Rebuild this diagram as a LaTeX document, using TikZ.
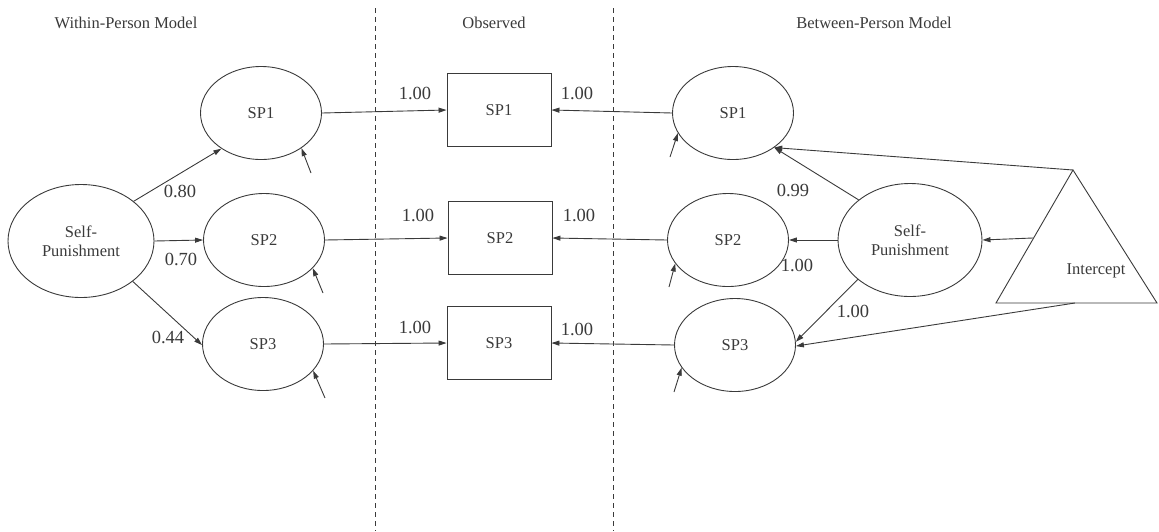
\documentclass[tikz,border=0pt]{standalone}
\usepackage{fontspec}
\setmainfont{Liberation Serif}
\usetikzlibrary{arrows.meta,calc,shapes.geometric}
\definecolor{ink}{HTML}{3A3A3A}
\tikzset{
  latent/.style={ellipse,draw=ink,line width=0.9pt,minimum width=121pt,minimum height=93pt,inner sep=0pt,text=ink,font=\fontsize{16.5}{19}\selectfont,align=center},
  bigl/.style={latent,minimum width=146pt,minimum height=113pt},
  obsbox/.style={rectangle,draw=ink,line width=0.9pt,minimum width=104pt,minimum height=73pt,text=ink,font=\fontsize{16.5}{19}\selectfont},
  path/.style={draw=ink,line width=0.9pt,-{Triangle[length=8pt,width=5pt]}},
  coef/.style={text=ink,font=\fontsize{18.5}{21}\selectfont,inner sep=0pt},
  head/.style={text=ink,font=\fontsize{16.5}{19}\selectfont,inner sep=0pt},
  divider/.style={draw=ink,line width=0.8pt,dash pattern=on 5pt off 4pt}
}
\begin{document}
\begin{tikzpicture}[x=1pt,y=-1pt]
\useasboundingbox (0,0) rectangle (1159,531);

% panel headings and dividers
\node[head] (hw) at (126,23) {Within-Person Model};
\node[head] (ho) at (494,23) {Observed};
\node[head] (hb) at (874,23) {Between-Person Model};
\coordinate (d1t) at (375,8);  \coordinate (d1b) at (375,531);
\coordinate (d2t) at (613,8);  \coordinate (d2b) at (613,531);
\draw[divider] (d1t) -- (d1b);
\draw[divider] (d2t) -- (d2b);

% within-person latent variables
\node[bigl] (lsp) at (81,241) {Self-\\Punishment};
\node[latent] (l1) at (261,113) {SP1};
\node[latent] (l2) at (264,240) {SP2};
\node[latent] (l3) at (263,344) {SP3};

% observed indicators
\node[obsbox] (o1) at (499,110) {SP1};
\node[obsbox] (o2) at (500,238) {SP2};
\node[obsbox] (o3) at (499,343) {SP3};

% between-person latent variables
\node[latent] (r1) at (733,113) {SP1};
\node[latent] (r2) at (728,240) {SP2};
\node[latent] (r3) at (735,345) {SP3};
\node[bigl,minimum width=144pt] (rsp) at (910,240) {Self-\\Punishment};

% intercept triangle
\coordinate (ta) at (1073,170);
\coordinate (tl) at (996,303);
\coordinate (tr) at (1157,303);
\draw[ink,line width=0.9pt] (ta) -- (tl) -- (tr) -- cycle;
\node[head] (icpt) at (1096,271) {Intercept};
\coordinate (tside) at ($(ta)!0.511!(tl)$);
\coordinate (tbase) at ($(tl)!0.49!(tr)$);

% within-person loadings
\draw[path] (lsp.37) -- (l1.222);
\draw[path] (lsp.east) -- (l2.west);
\draw[path] (lsp.-38) -- (l3.181);
\node[coef] (c80) at (180,191) {0.80};
\node[coef] (c70) at (181,259) {0.70};
\node[coef] (c44) at (168,337) {0.44};

% residuals, within
\coordinate (e1) at (311,173);
\coordinate (e2) at (323,293);
\coordinate (e3) at (325,398);
\draw[path] (e1) -- (l1.-41);
\draw[path] (e2) -- (l2.-30);
\draw[path] (e3) -- (l3.-28);

% paths to observed indicators
\draw[path] (l1.east) -- (o1.west);
\draw[path] (l2.east) -- (o2.west);
\draw[path] (l3.east) -- (o3.west);
\draw[path] (r1.west) -- (o1.east);
\draw[path] (r2.west) -- (o2.east);
\draw[path] (r3.west) -- (o3.east);
\node[coef] (a1) at (415,93) {1.00};
\node[coef] (a2) at (418,215) {1.00};
\node[coef] (a3) at (415,327) {1.00};
\node[coef] (b1) at (577,93) {1.00};
\node[coef] (b2) at (579,215) {1.00};
\node[coef] (b3) at (577,329) {1.00};

% residuals, between
\coordinate (f1) at (670,157);
\coordinate (f2) at (669,287);
\coordinate (f3) at (674,392);
\draw[path] (f1) -- (r1.200);
\draw[path] (f2) -- (r2.204);
\draw[path] (f3) -- (r3.203);

% between-person loadings
\draw[path] (rsp.142) -- (r1.-40);
\draw[path] (rsp.west) -- (r2.east);
\draw[path] (rsp.217) -- (r3.3);
\node[coef] (c99) at (793,190) {0.99};
\node[coef] (c2b) at (797,265) {1.00};
\node[coef] (c3b) at (853,311) {1.00};

% intercept paths
\draw[path] (ta) -- (r1.-40);
\draw[path] (tside) -- (rsp.east);
\draw[path] (tbase) -- (r3.-1);
\end{tikzpicture}
\end{document}
